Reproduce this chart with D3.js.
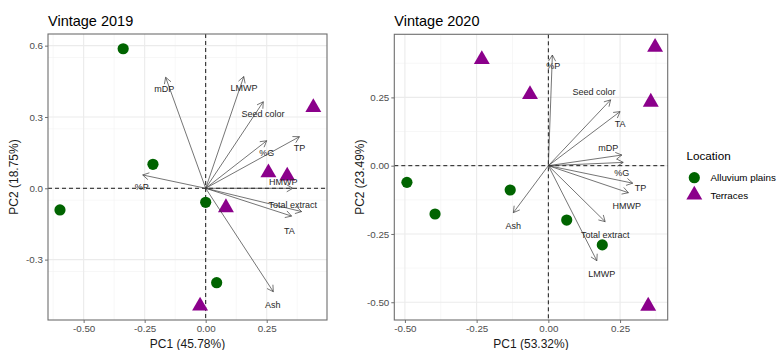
<!DOCTYPE html>
<html><head><meta charset="utf-8">
<script src="https://cdn.jsdelivr.net/npm/d3@7"></script>
<style>body{margin:0;background:#fff}svg{display:block;font-family:"Liberation Sans",Arial,sans-serif}</style>
</head><body><svg id="c" width="781" height="350"></svg>
<script>
// ---- data ----
const titles = ["Vintage 2019", "Vintage 2020"];
const xTitles = ["PC1 (45.78%)", "PC1 (53.32%)"];
const yTitles = ["PC2 (18.75%)", "PC2 (23.49%)"];
const xTicks = [[-0.5, -0.25, 0, 0.25], [-0.5, -0.25, 0, 0.25]];
const yTicks = [[0.6, 0.3, 0, -0.3], [0.25, 0, -0.25, -0.5]];
const yTickFmt = [".1f", ".2f"];

// 2019 scores
const alluvium2019X = [-0.338, -0.216, -0.597, 0.000, 0.045];
const alluvium2019Y = [0.587, 0.101, -0.091, -0.059, -0.397];
const terraces2019X = [0.441, 0.257, 0.334, 0.083, -0.023];
const terraces2019Y = [0.340, 0.066, 0.052, -0.081, -0.495];
// 2019 loadings
const vars2019 = ["mDP", "LMWP", "Seed color", "%G", "TP", "HMWP", "Total extract", "TA", "Ash", "%P"];
const load2019X = [-0.164, 0.156, 0.236, 0.250, 0.384, 0.357, 0.393, 0.352, 0.277, -0.258];
const load2019Y = [0.467, 0.470, 0.364, 0.200, 0.217, 0.000, -0.098, -0.117, -0.435, 0.056];
const lab2019X = [-0.170, 0.157, 0.235, 0.250, 0.384, 0.318, 0.357, 0.343, 0.275, -0.262];
const lab2019Y = [0.416, 0.421, 0.314, 0.147, 0.168, 0.028, -0.072, -0.178, -0.491, 0.004];

// 2020 scores
const alluvium2020X = [-0.493, -0.395, -0.133, 0.064, 0.188];
const alluvium2020Y = [-0.061, -0.177, -0.089, -0.199, -0.290];
const terraces2020X = [-0.232, -0.064, 0.372, 0.357, 0.348];
const terraces2020Y = [0.389, 0.261, 0.434, 0.233, -0.514];
// 2020 loadings
const vars2020 = ["%P", "Seed color", "TA", "mDP", "%G", "TP", "HMWP", "Total extract", "LMWP", "Ash"];
const load2020X = [0.014, 0.217, 0.250, 0.256, 0.261, 0.294, 0.279, 0.198, 0.169, -0.122];
const load2020Y = [0.405, 0.241, 0.198, 0.039, 0.012, -0.064, -0.099, -0.205, -0.348, -0.172];
const lab2020X = [0.017, 0.159, 0.250, 0.209, 0.256, 0.321, 0.273, 0.198, 0.186, -0.122];
const lab2020Y = [0.366, 0.271, 0.152, 0.066, -0.026, -0.080, -0.149, -0.254, -0.398, -0.220];

const xDomains = [[-0.646, 0.497], [-0.537, 0.416]];
const yDomains = [[-0.554, 0.649], [-0.565, 0.481]];
const legendTitle = "Location";
const groups = ["Alluvium plains", "Terraces"];

// ---- drawing ----
const svg = d3.select("#c");
const green = "#006400", purple = "#8B008B";
const boxes = [{x0: 48, x1: 327, y0: 34, y1: 320}, {x0: 394.3, x1: 667.7, y0: 34.3, y1: 320}];
const datasets = [
  {ax: alluvium2019X, ay: alluvium2019Y, tx: terraces2019X, ty: terraces2019Y,
   v: vars2019, lx: load2019X, ly: load2019Y, tlx: lab2019X, tly: lab2019Y},
  {ax: alluvium2020X, ay: alluvium2020Y, tx: terraces2020X, ty: terraces2020Y,
   v: vars2020, lx: load2020X, ly: load2020Y, tlx: lab2020X, tly: lab2020Y}
];
const tri = d3.symbol().type(d3.symbolTriangle).size(110);

boxes.forEach((b, i) => {
  const d = datasets[i];
  const x = d3.scaleLinear().domain(xDomains[i]).range([b.x0, b.x1]);
  const y = d3.scaleLinear().domain(yDomains[i]).range([b.y1, b.y0]);
  const g = svg.append("g");
  // grid: minor
  const xt = xTicks[i], yt = yTicks[i];
  const stepX = xt[1] - xt[0], stepY = yt[0] - yt[1];
  const minorX = d3.range(-2, 2, stepX).map(v => v + stepX / 2).filter(v => v > xDomains[i][0] && v < xDomains[i][1]);
  const minorY = d3.range(-2, 2, stepY).map(v => v + stepY / 2).filter(v => v > yDomains[i][0] && v < yDomains[i][1]);
  g.selectAll(".mx").data(minorX).join("line").attr("x1", v => x(v)).attr("x2", v => x(v))
    .attr("y1", b.y0).attr("y2", b.y1).attr("stroke", "#f2f2f2").attr("stroke-width", 0.6);
  g.selectAll(".my").data(minorY).join("line").attr("y1", v => y(v)).attr("y2", v => y(v))
    .attr("x1", b.x0).attr("x2", b.x1).attr("stroke", "#f2f2f2").attr("stroke-width", 0.6);
  g.selectAll(".gx").data(xt).join("line").attr("x1", v => x(v)).attr("x2", v => x(v))
    .attr("y1", b.y0).attr("y2", b.y1).attr("stroke", "#ebebeb").attr("stroke-width", 1.1);
  g.selectAll(".gy").data(yt).join("line").attr("y1", v => y(v)).attr("y2", v => y(v))
    .attr("x1", b.x0).attr("x2", b.x1).attr("stroke", "#ebebeb").attr("stroke-width", 1.1);
  // zero lines
  g.append("line").attr("x1", x(0)).attr("x2", x(0)).attr("y1", b.y0).attr("y2", b.y1)
    .attr("stroke", "#000").attr("stroke-width", 0.9).attr("stroke-dasharray", "4,3");
  g.append("line").attr("y1", y(0)).attr("y2", y(0)).attr("x1", b.x0).attr("x2", b.x1)
    .attr("stroke", "#000").attr("stroke-width", 0.9).attr("stroke-dasharray", "4,3");
  // points
  g.selectAll(".pa").data(d.ax).join("circle").attr("cx", (v) => x(v)).attr("cy", (v, k) => y(d.ay[k]))
    .attr("r", 5.6).attr("fill", green);
  g.selectAll(".pt").data(d.tx).join("path").attr("d", tri)
    .attr("transform", (v, k) => `translate(${x(v)},${y(d.ty[k])})`).attr("fill", purple);
  // arrows
  const ox = x(0), oy = y(0);
  d.v.forEach((name, k) => {
    const ex = x(d.lx[k]), ey = y(d.ly[k]);
    const ang = Math.atan2(ey - oy, ex - ox);
    const L = 7, a = Math.PI / 6;
    g.append("line").attr("x1", ox).attr("y1", oy).attr("x2", ex).attr("y2", ey)
      .attr("stroke", "#3a3a3a").attr("stroke-width", 0.7);
    g.append("path").attr("d", `M${ex - L * Math.cos(ang - a)},${ey - L * Math.sin(ang - a)}L${ex},${ey}L${ex - L * Math.cos(ang + a)},${ey - L * Math.sin(ang + a)}`)
      .attr("fill", "none").attr("stroke", "#3a3a3a").attr("stroke-width", 0.7);
    g.append("text").attr("x", x(d.tlx[k])).attr("y", y(d.tly[k])).attr("text-anchor", "middle")
      .attr("dominant-baseline", "central").attr("font-size", 9).attr("fill", "#262626").text(name);
  });
  // border
  g.append("rect").attr("x", b.x0).attr("y", b.y0).attr("width", b.x1 - b.x0).attr("height", b.y1 - b.y0)
    .attr("fill", "none").attr("stroke", "#6e6e6e").attr("stroke-width", 1.1);
  // axes
  const xa = g.append("g").attr("transform", `translate(0,${b.y1})`)
    .call(d3.axisBottom(x).tickValues(xt).tickFormat(d3.format(".2f")).tickSize(3).tickPadding(2));
  const ya = g.append("g").attr("transform", `translate(${b.x0},0)`)
    .call(d3.axisLeft(y).tickValues(yt).tickFormat(d3.format(yTickFmt[i])).tickSize(3).tickPadding(2));
  [xa, ya].forEach(a => {
    a.select(".domain").remove();
    a.selectAll("line").attr("stroke", "#6e6e6e");
    a.selectAll("text").attr("fill", "#4d4d4d").attr("font-size", 9.8).attr("font-family", "Liberation Sans, Arial, sans-serif")
      .text(function () { return this.textContent.replace("\u2212", "-"); });
  });
  // titles
  svg.append("text").attr("x", b.x0).attr("y", 26).attr("font-size", 14.5).attr("fill", "#000").text(titles[i]);
  svg.append("text").attr("x", (b.x0 + b.x1) / 2).attr("y", 347.5).attr("text-anchor", "middle")
    .attr("font-size", 12).attr("fill", "#1a1a1a").text(xTitles[i]);
  svg.append("text").attr("transform", `translate(${b.x0 - 30},${(b.y0 + b.y1) / 2}) rotate(-90)`)
    .attr("text-anchor", "middle").attr("font-size", 12).attr("fill", "#1a1a1a").text(yTitles[i]);
});

// legend
const lg = svg.append("g");
lg.append("text").attr("x", 686.5).attr("y", 160).attr("font-size", 11.7).attr("fill", "#000").text(legendTitle);
lg.append("circle").attr("cx", 694.3).attr("cy", 177.7).attr("r", 5.6).attr("fill", green);
lg.append("path").attr("d", tri).attr("transform", "translate(694.3,195)").attr("fill", purple);
groups.forEach((gname, k) => {
  lg.append("text").attr("x", 710.5).attr("y", 177.7 + k * 17.3).attr("dominant-baseline", "central")
    .attr("font-size", 9.8).attr("fill", "#000").text(gname);
});
</script></body></html>
